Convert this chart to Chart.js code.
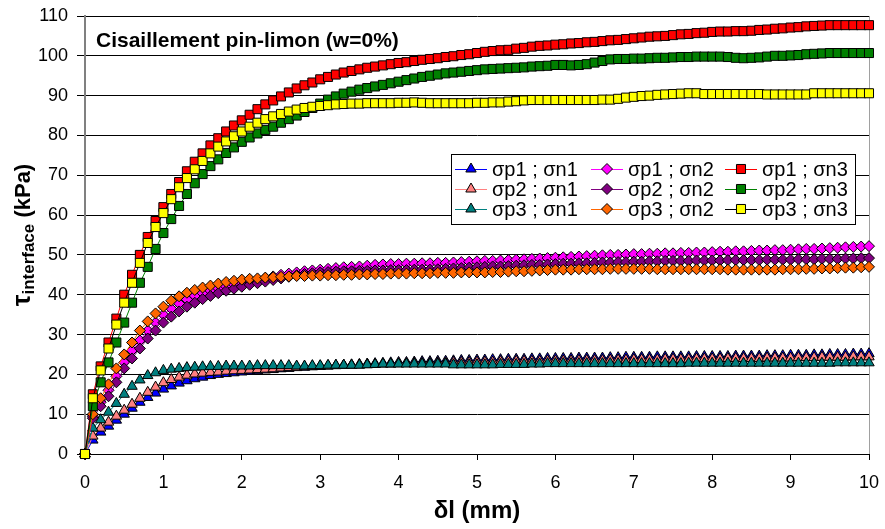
<!DOCTYPE html>
<html>
<head>
<meta charset="utf-8">
<script src="https://cdn.jsdelivr.net/npm/chart.js@4.4.1/dist/chart.umd.min.js"></script>
<style>
  html, body { margin: 0; padding: 0; background: #fff; }
  canvas { display: block; }
</style>
</head>
<body>
<canvas id="chart" width="885" height="529"></canvas>
<script>
// displacement (mm)
const dl = [
  0, 0.1, 0.2, 0.3, 0.4, 0.5, 0.6, 0.7, 0.8, 0.9,
  1, 1.1, 1.2, 1.3, 1.4, 1.5, 1.6, 1.7, 1.8, 1.9,
  2, 2.1, 2.2, 2.3, 2.4, 2.5, 2.6, 2.7, 2.8, 2.9,
  3, 3.1, 3.2, 3.3, 3.4, 3.5, 3.6, 3.7, 3.8, 3.9,
  4, 4.1, 4.2, 4.3, 4.4, 4.5, 4.6, 4.7, 4.8, 4.9,
  5, 5.1, 5.2, 5.3, 5.4, 5.5, 5.6, 5.7, 5.8, 5.9,
  6, 6.1, 6.2, 6.3, 6.4, 6.5, 6.6, 6.7, 6.8, 6.9,
  7, 7.1, 7.2, 7.3, 7.4, 7.5, 7.6, 7.7, 7.8, 7.9,
  8, 8.1, 8.2, 8.3, 8.4, 8.5, 8.6, 8.7, 8.8, 8.9,
  9, 9.1, 9.2, 9.3, 9.4, 9.5, 9.6, 9.7, 9.8, 9.9,
  10
];

// shear stress (kPa)
const p1n1 = [
  0, 3.5, 5.5, 7, 8.5, 10, 11.5, 13, 14.2, 15.3,
  16.3, 17.1, 17.8, 18.4, 18.9, 19.3, 19.7, 20, 20.2, 20.4,
  20.6, 20.8, 20.9, 21.1, 21.2, 21.4, 21.5, 21.7, 21.8, 21.9,
  22, 22.1, 22.2, 22.3, 22.4, 22.5, 22.6, 22.7, 22.8, 22.9,
  23, 23, 23.1, 23.2, 23.2, 23.3, 23.3, 23.4, 23.5, 23.5,
  23.6, 23.6, 23.7, 23.7, 23.8, 23.8, 23.8, 23.9, 23.9, 24,
  24, 24, 24, 24.1, 24.1, 24.1, 24.1, 24.2, 24.2, 24.3,
  24.3, 24.3, 24.3, 24.4, 24.4, 24.4, 24.4, 24.4, 24.5, 24.5,
  24.5, 24.5, 24.5, 24.6, 24.6, 24.6, 24.6, 24.7, 24.7, 24.7,
  24.8, 24.8, 24.8, 24.9, 24.9, 25, 25, 25, 25.1, 25.1,
  25.2
];
const p2n1 = [
  0, 4.5, 6.5, 8, 9.5, 11, 12.5, 14, 15.5, 16.8,
  17.9, 18.7, 19.3, 19.8, 20.1, 20.3, 20.5, 20.6, 20.8, 20.9,
  21, 21.1, 21.2, 21.3, 21.4, 21.6, 21.7, 21.8, 21.9, 22,
  22.1, 22.1, 22.2, 22.3, 22.3, 22.4, 22.5, 22.5, 22.6, 22.6,
  22.7, 22.7, 22.8, 22.8, 22.8, 22.9, 22.9, 23, 23, 23,
  23.1, 23.1, 23.1, 23.2, 23.2, 23.3, 23.3, 23.3, 23.3, 23.4,
  23.4, 23.4, 23.4, 23.5, 23.5, 23.5, 23.5, 23.6, 23.6, 23.6,
  23.7, 23.7, 23.7, 23.7, 23.8, 23.8, 23.8, 23.8, 23.9, 23.9,
  23.9, 23.9, 24, 24, 24, 24, 24, 24.1, 24.1, 24.1,
  24.1, 24.2, 24.2, 24.2, 24.3, 24.3, 24.3, 24.3, 24.4, 24.4,
  24.4
];
const p3n1 = [
  0, 6.5, 8.6, 10.5, 12.7, 15, 17, 18.6, 19.7, 20.4,
  21, 21.3, 21.5, 21.7, 21.8, 21.9, 22, 22, 22.1, 22.1,
  22.1, 22.1, 22.2, 22.2, 22.2, 22.2, 22.2, 22.1, 22.1, 22.2,
  22.2, 22.3, 22.3, 22.3, 22.3, 22.3, 22.4, 22.5, 22.6, 22.6,
  22.6, 22.6, 22.6, 22.6, 22.6, 22.6, 22.6, 22.4, 22.4, 22.4,
  22.4, 22.4, 22.4, 22.5, 22.5, 22.5, 22.5, 22.6, 22.6, 22.7,
  22.7, 22.7, 22.7, 22.7, 22.7, 22.7, 22.7, 22.7, 22.7, 22.7,
  22.7, 22.7, 22.7, 22.7, 22.7, 22.7, 22.7, 22.8, 22.8, 22.8,
  22.8, 22.8, 22.8, 22.8, 22.8, 22.8, 22.8, 22.8, 22.8, 22.8,
  22.8, 22.8, 22.8, 22.8, 22.8, 22.8, 22.9, 22.9, 22.9, 22.9,
  22.9
];
const p1n2 = [
  0, 9.5, 13, 16, 19.5, 23, 26, 28.5, 31, 33,
  35, 36.5, 37.8, 38.8, 39.7, 40.4, 41, 41.6, 42.1, 42.6,
  43, 43.4, 43.8, 44.2, 44.6, 45, 45.3, 45.6, 45.9, 46.1,
  46.3, 46.5, 46.7, 46.9, 47, 47.1, 47.3, 47.5, 47.6, 47.7,
  47.7, 47.8, 47.8, 47.9, 47.9, 48, 48, 48.1, 48.2, 48.3,
  48.4, 48.5, 48.5, 48.6, 48.7, 48.8, 48.9, 49, 49.1, 49.2,
  49.3, 49.4, 49.5, 49.6, 49.7, 49.8, 49.9, 50, 50, 50.1,
  50.2, 50.2, 50.3, 50.3, 50.4, 50.4, 50.5, 50.5, 50.6, 50.6,
  50.7, 50.8, 50.8, 50.9, 50.9, 51, 51.1, 51.1, 51.2, 51.2,
  51.3, 51.4, 51.5, 51.5, 51.6, 51.7, 51.8, 51.9, 52, 52.1,
  52.2
];
const p2n2 = [
  0, 9, 12, 14.5, 18, 21.5, 24, 26.5, 29, 31,
  33, 34.5, 35.8, 37, 38, 38.9, 39.7, 40.4, 41, 41.5,
  42, 42.5, 42.9, 43.3, 43.7, 44.1, 44.5, 44.9, 45.2, 45.4,
  45.6, 45.7, 45.8, 45.9, 45.9, 46, 46, 46.1, 46.1, 46.2,
  46.2, 46.2, 46.3, 46.3, 46.3, 46.4, 46.5, 46.6, 46.7, 46.8,
  46.9, 47, 47.1, 47.1, 47.2, 47.3, 47.4, 47.5, 47.5, 47.6,
  47.7, 47.8, 47.8, 47.9, 47.9, 48, 48.1, 48.1, 48.2, 48.2,
  48.3, 48.3, 48.4, 48.4, 48.5, 48.5, 48.5, 48.5, 48.6, 48.6,
  48.6, 48.6, 48.7, 48.7, 48.7, 48.7, 48.7, 48.8, 48.8, 48.8,
  48.8, 48.9, 48.9, 48.9, 49, 49, 49, 49.1, 49.1, 49.2,
  49.2
];
const p3n2 = [
  0, 10, 14, 17.5, 21.5, 25, 28, 31, 33.3, 35.3,
  37, 38.5, 39.6, 40.5, 41.2, 41.8, 42.3, 42.8, 43.2, 43.5,
  43.8, 44, 44.1, 44.3, 44.4, 44.5, 44.6, 44.7, 44.7, 44.8,
  44.8, 44.9, 44.9, 45, 45, 45.1, 45.1, 45.2, 45.2, 45.3,
  45.3, 45.3, 45.4, 45.4, 45.4, 45.5, 45.5, 45.5, 45.6, 45.6,
  45.6, 45.6, 45.7, 45.7, 45.8, 45.9, 45.9, 46, 46.1, 46.2,
  46.3, 46.3, 46.3, 46.4, 46.4, 46.4, 46.4, 46.5, 46.5, 46.5,
  46.5, 46.5, 46.5, 46.4, 46.4, 46.4, 46.4, 46.4, 46.4, 46.4,
  46.4, 46.4, 46.3, 46.3, 46.3, 46.3, 46.3, 46.3, 46.3, 46.4,
  46.4, 46.4, 46.5, 46.5, 46.6, 46.6, 46.7, 46.8, 46.8, 46.9,
  47
];
const p1n3 = [
  0, 15, 22, 28, 34, 40, 45, 50, 54.5, 58.5,
  62, 65.3, 68.3, 71, 73.4, 75.5, 77.5, 79.3, 81, 82.5,
  83.8, 85.2, 86.6, 87.8, 88.8, 89.8, 90.8, 91.8, 92.6, 93.3,
  94.1, 94.7, 95.3, 95.8, 96.2, 96.6, 97, 97.3, 97.6, 97.9,
  98.2, 98.4, 98.7, 99, 99.2, 99.4, 99.7, 99.9, 100.2, 100.4,
  100.7, 101, 101.2, 101.4, 101.5, 101.8, 102, 102.3, 102.5, 102.6,
  102.8, 102.9, 103.1, 103.2, 103.4, 103.5, 103.7, 103.9, 104, 104.2,
  104.4, 104.6, 104.8, 104.9, 105, 105.2, 105.4, 105.5, 105.7, 105.8,
  106, 106.1, 106.1, 106.2, 106.2, 106.3, 106.5, 106.6, 106.8, 106.9,
  107.1, 107.2, 107.4, 107.5, 107.6, 107.7, 107.7, 107.7, 107.7, 107.7,
  107.7
];
const p2n3 = [
  0, 12, 18, 23, 28, 33, 38, 43, 47, 51.5,
  55.5, 59, 62.3, 65.3, 68, 70.3, 72.3, 74, 75.6, 77,
  78.4, 79.5, 80.5, 81.4, 82.2, 83.2, 84.1, 85, 85.9, 86.9,
  88, 89, 89.8, 90.5, 91, 91.5, 91.9, 92.3, 92.7, 93.1,
  93.5, 93.9, 94.3, 94.7, 95, 95.3, 95.6, 95.8, 96, 96.2,
  96.4, 96.6, 96.7, 96.8, 96.9, 97, 97.1, 97.3, 97.4, 97.5,
  97.7, 97.7, 97.6, 97.7, 97.9, 98.3, 98.7, 99.1, 99.2, 99.2,
  99.3, 99.3, 99.4, 99.5, 99.5, 99.6, 99.7, 99.7, 99.8, 99.8,
  99.8, 99.8, 99.7, 99.5, 99.4, 99.5, 99.6, 99.8, 100, 100,
  100.1, 100.2, 100.4, 100.5, 100.6, 100.7, 100.7, 100.7, 100.7, 100.7,
  100.7
];
const p3n3 = [
  0, 14, 21, 26.5, 32.5, 38, 43, 48, 53, 57,
  60.5, 64, 67, 69.3, 71.5, 73.6, 75.5, 77.2, 78.5, 79.8,
  81, 82.2, 83.2, 84.1, 84.8, 85.4, 86, 86.5, 86.9, 87.2,
  87.4, 87.6, 87.8, 87.9, 88, 88, 88.1, 88.1, 88.1, 88.1,
  88.2, 88.2, 88.3, 88.2, 88.1, 88.1, 88.1, 88.1, 88.1, 88.1,
  88.2, 88.2, 88.3, 88.3, 88.5, 88.6, 88.8, 88.9, 88.9, 88.9,
  88.9, 88.9, 88.9, 88.9, 88.9, 88.9, 89, 89, 89.2, 89.5,
  89.7, 89.9, 90, 90.2, 90.3, 90.4, 90.5, 90.6, 90.6, 90.4,
  90.4, 90.4, 90.4, 90.4, 90.4, 90.4, 90.4, 90.3, 90.3, 90.3,
  90.3, 90.3, 90.3, 90.6, 90.6, 90.6, 90.6, 90.6, 90.6, 90.6,
  90.6
];

const seriesNames = [
  "σp1 ; σn1", "σp2 ; σn1", "σp3 ; σn1",
  "σp1 ; σn2", "σp2 ; σn2", "σp3 ; σn2",
  "σp1 ; σn3", "σp2 ; σn3", "σp3 ; σn3"
];
const seriesData = [p1n1, p2n1, p3n1, p1n2, p2n2, p3n2, p1n3, p2n3, p3n3];
const fills = ["#0000ff", "#ff8080", "#008080", "#ff00ff", "#800080", "#ff6600", "#ff0000", "#008000", "#ffff00"];
const lines = ["#0000ff", "#ff8080", "#008080", "#ff00ff", "#800080", "#ff6600", "#ff0000", "#008000", "#000000"];
const shapes = ["triangle", "triangle", "triangle", "rectRot", "rectRot", "rectRot", "rect", "rect", "rect"];
const radii = [6, 6, 6, 5.5, 5.5, 5.5, 6.4, 6.4, 6.4];

const chartTitle = "Cisaillement pin-limon (w=0%)";
const xTitle = "δl (mm)";

const FONT = '"Liberation Sans", Arial, sans-serif';

function marker(ctx, shape, r, x, y) {
  ctx.beginPath();
  if (shape === "rect") {
    const s = Math.SQRT1_2 * r;
    ctx.rect(x - s, y - s, 2 * s, 2 * s);
  } else if (shape === "rectRot") {
    ctx.moveTo(x - r, y); ctx.lineTo(x, y - r); ctx.lineTo(x + r, y); ctx.lineTo(x, y + r);
  } else {
    let a = 0;
    ctx.moveTo(x + Math.sin(a) * r, y - Math.cos(a) * r);
    a += 2 * Math.PI / 3;
    ctx.lineTo(x + Math.sin(a) * r, y - Math.cos(a) * r);
    a += 2 * Math.PI / 3;
    ctx.lineTo(x + Math.sin(a) * r, y - Math.cos(a) * r);
  }
  ctx.closePath();
  ctx.fill();
  ctx.stroke();
}

const decor = {
  id: "decor",
  beforeDatasetsDraw(chart) {
    const ctx = chart.ctx, a = chart.chartArea;
    ctx.save();
    ctx.strokeStyle = "#a0a0a0";
    ctx.lineWidth = 1;
    ctx.beginPath();
    ctx.moveTo(Math.round(a.right) + 0.5, a.top);
    ctx.lineTo(Math.round(a.right) + 0.5, a.bottom);
    ctx.stroke();
    ctx.restore();
  },
  afterDraw(chart) {
    const ctx = chart.ctx;
    ctx.save();

    // title inside the plot
    ctx.fillStyle = "#000";
    ctx.font = "bold 21px " + FONT;
    ctx.textBaseline = "alphabetic";
    ctx.textAlign = "left";
    ctx.fillText(chartTitle, 96, 47);

    // legend
    const bx = 451, by = 154, bw = 404, bh = 70;
    ctx.fillStyle = "#fff";
    ctx.fillRect(bx, by, bw, bh);
    ctx.strokeStyle = "#000";
    ctx.lineWidth = 1;
    ctx.strokeRect(bx + 0.5, by + 0.5, bw, bh);
    const colX = [471, 607, 741];
    const rowY = [169, 189, 209];
    ctx.font = "20px " + FONT;
    ctx.textBaseline = "middle";
    for (let i = 0; i < seriesNames.length; i++) {
      const cx = colX[Math.floor(i / 3)], cy = rowY[i % 3];
      ctx.strokeStyle = lines[i];
      ctx.lineWidth = 1;
      ctx.beginPath();
      ctx.moveTo(cx - 16, cy + 0.5);
      ctx.lineTo(cx + 16, cy + 0.5);
      ctx.stroke();
      ctx.fillStyle = fills[i];
      ctx.strokeStyle = "#000";
      marker(ctx, shapes[i], radii[i], cx, cy);
      ctx.fillStyle = "#000";
      ctx.fillText(seriesNames[i], cx + 21, cy + 1);
    }

    // y axis title with subscript
    ctx.translate(30, 235);
    ctx.rotate(-Math.PI / 2);
    ctx.textBaseline = "alphabetic";
    const parts = [
      { t: "τ", f: "bold 26px " + FONT, dy: 0 },
      { t: "interface", f: "bold 17px " + FONT, dy: 4 },
      { t: " (kPa)", f: "bold 22px " + FONT, dy: 0 }
    ];
    let total = 0;
    parts.forEach(p => { ctx.font = p.f; p.w = ctx.measureText(p.t).width; total += p.w; });
    let x = -total / 2;
    ctx.fillStyle = "#000";
    parts.forEach(p => { ctx.font = p.f; ctx.fillText(p.t, x, p.dy); x += p.w; });
    ctx.restore();
  }
};

const datasets = seriesData.map((vals, i) => ({
  label: seriesNames[i],
  data: dl.map((x, j) => ({ x: x, y: vals[j] })),
  borderColor: lines[i],
  backgroundColor: fills[i],
  borderWidth: 1,
  pointStyle: shapes[i],
  pointRadius: radii[i],
  pointBorderColor: "#000",
  pointBorderWidth: 1,
  tension: 0,
  clip: false,
  order: seriesData.length - i
}));

new Chart(document.getElementById("chart").getContext("2d"), {
  type: "line",
  data: { datasets: datasets },
  plugins: [decor],
  options: {
    responsive: false,
    animation: false,
    events: [],
    layout: { padding: { top: 16, right: 16, left: 0, bottom: 0 } },
    plugins: { legend: { display: false }, tooltip: { enabled: false } },
    scales: {
      x: {
        type: "linear",
        min: 0,
        max: 10,
        ticks: { stepSize: 1, color: "#000", font: { family: FONT, size: 18 }, padding: 12 },
        grid: { drawOnChartArea: false, color: "#000", tickLength: 6 },
        border: { color: "#000", width: 1 },
        title: { display: true, text: xTitle, color: "#000", font: { family: FONT, size: 24, weight: "bold" }, padding: { top: 0, bottom: 3 } },
        afterFit(scale) {
          scale.height = 75;
          scale.paddingLeft = 0;
          scale.paddingRight = 0;
        }
      },
      y: {
        min: 0,
        max: 110,
        ticks: { stepSize: 10, color: "#000", font: { family: FONT, size: 18 }, padding: 9 },
        grid: { color: "#000", tickLength: 8 },
        border: { color: "#808080", width: 2 },
        afterFit(scale) {
          scale.width = 85;
          scale.paddingTop = 0;
          scale.paddingBottom = 0;
        }
      }
    }
  }
});
</script>
</body>
</html>
